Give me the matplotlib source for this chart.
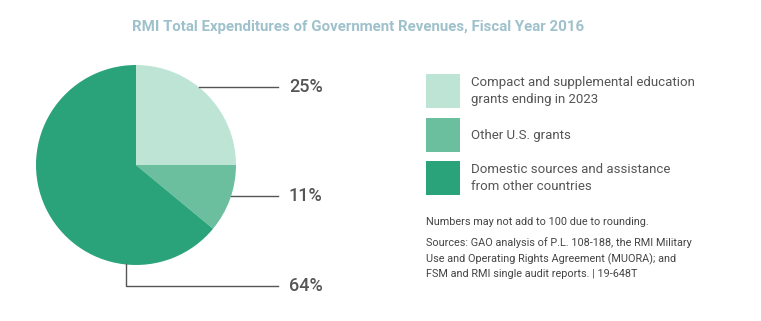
import numpy as np
import matplotlib
matplotlib.use("Agg")
import matplotlib.pyplot as plt

plt.rcParams['font.family'] = ['Roboto', 'DejaVu Sans']

title = "RMI Total Expenditures of Government Revenues, Fiscal Year 2016"
categories = ["Compact and supplemental education\ngrants ending in 2023",
              "Other U.S. grants",
              "Domestic sources and assistance\nfrom other countries"]
shares = [25, 11, 64]
colors = ["#bde4d5", "#6bbf9f", "#2ba37a"]
note = "Numbers may not add to 100 due to rounding."
sources = ("Sources: GAO analysis of P.L. 108-188, the RMI Military\n"
           "Use and Operating Rights Agreement (MUORA); and\n"
           "FSM and RMI single audit reports. | 19-648T")

W, H = 761, 321
fig = plt.figure(figsize=(W / 100, H / 100), dpi=100)
ax = fig.add_axes([0, 0, 1, 1])
ax.set_xlim(0, W)
ax.set_ylim(0, H)
ax.set_aspect('equal')
ax.set_axis_off()

def Y(y):
    # image pixel row -> data y
    return H - y

cx, cy, r = 136, Y(165), 100
ax.pie(shares, colors=colors, startangle=90, counterclock=False,
       center=(cx, cy), radius=r, wedgeprops=dict(linewidth=0))
ax.set_xlim(0, W)
ax.set_ylim(0, H)

line_c = "#555555"
text_c = "#555555"
label_x = 278
# leader lines for the first two slices: horizontal from the pie edge
for val, yimg in zip(shares[:2], [87, 196]):
    y = Y(yimg)
    dx = np.sqrt(r ** 2 - (y - cy) ** 2)
    ax.plot([cx + dx, label_x], [y, y], color=line_c, lw=1)
    ax.text(label_x + 11, y, f"{val}%", ha='left', va='center',
            fontsize=13, color=text_c, fontweight='medium')
# last slice: down from the bottom, then right
vx = 126
vy = cy - np.sqrt(r ** 2 - (vx - cx) ** 2)
ax.plot([vx, vx, label_x], [vy, Y(286), Y(286)], color=line_c, lw=1)
ax.text(label_x + 11, Y(286), f"{shares[2]}%", ha='left', va='center',
        fontsize=13, color=text_c, fontweight='medium')

ax.text(358, Y(27), title, ha='center', va='center', fontsize=10.8,
        fontweight='bold', color="#9fc1cc")

# legend
box_tops = [74, 118, 161]
for lab, col, top in zip(categories, colors, box_tops):
    ax.add_patch(plt.Rectangle((426, Y(top + 34)), 34, 34, color=col, lw=0))
    ax.text(471, Y(top + 17), lab, ha='left', va='center', fontsize=9.5,
            color=text_c, linespacing=1.45)

ax.text(426, Y(222), note, ha='left', va='center', fontsize=7.8, color="#444444")
ax.text(426, Y(237), sources, ha='left', va='top', fontsize=7.8,
        color="#444444", linespacing=1.58)

fig.savefig("out.png", dpi=100, facecolor="white")
